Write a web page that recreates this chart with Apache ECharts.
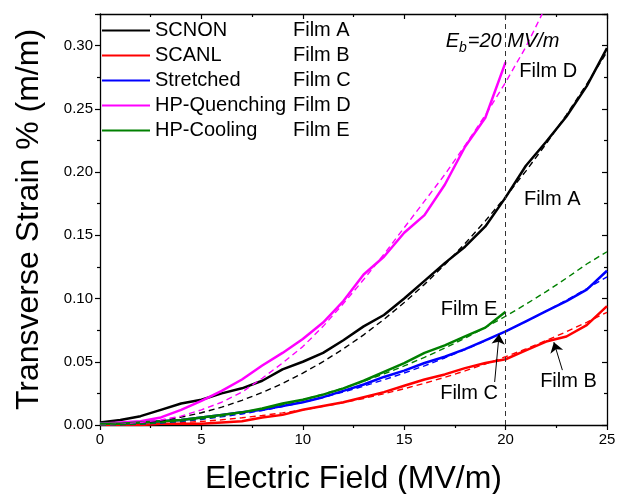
<!DOCTYPE html>
<html>
<head>
<meta charset="utf-8">
<script src="https://cdn.jsdelivr.net/npm/echarts@6/dist/echarts.min.js"></script>
<style>html,body{margin:0;padding:0;background:#fff}#c{width:618px;height:494px}</style>
</head>
<body>
<div id="c"></div>
<script>
// ---- data ----
const E25 = [0,1,2,3,4,5,6,7,8,9,10,11,12,13,14,15,16,17,18,19,20,21,22,23,24,25];
const E20 = [0,1,2,3,4,5,6,7,8,9,10,11,12,13,14,15,16,17,18,19,20];
const EdD = [0,1,2,3,4,5,6,7,8,9,10,11,12,13,14,15,16,17,18,19,20,21,21.8];

const filmA = [0.002,0.004,0.007,0.012,0.017,0.020,0.025,0.029,0.035,0.044,0.050,0.057,0.067,0.078,0.087,0.100,0.114,0.128,0.141,0.157,0.180,0.205,0.224,0.244,0.268,0.298];
const filmB = [0.000,0.000,0.000,0.001,0.001,0.001,0.002,0.003,0.006,0.008,0.012,0.015,0.018,0.022,0.026,0.031,0.036,0.040,0.045,0.049,0.052,0.059,0.066,0.070,0.079,0.094];
const filmC = [0.001,0.001,0.002,0.003,0.004,0.006,0.008,0.010,0.012,0.015,0.018,0.022,0.027,0.032,0.038,0.043,0.049,0.054,0.060,0.067,0.074,0.082,0.090,0.098,0.107,0.122];
const filmD = [0.001,0.002,0.003,0.006,0.012,0.019,0.027,0.036,0.047,0.057,0.068,0.081,0.098,0.119,0.133,0.152,0.166,0.190,0.220,0.243,0.287];
const filmE = [0.001,0.001,0.002,0.003,0.004,0.006,0.008,0.010,0.013,0.017,0.020,0.024,0.029,0.035,0.042,0.049,0.057,0.063,0.070,0.077,0.0895];

const fitA = [0,0.0004,0.0015,0.0034,0.0062,0.0097,0.0141,0.0195,0.0257,0.0328,0.0410,0.0501,0.0602,0.0713,0.0835,0.0968,0.1112,0.1268,0.1435,0.1614,0.1805,0.2008,0.2224,0.2453,0.2695,0.2950];
const fitB = [0,0.0001,0.0004,0.0010,0.0018,0.0028,0.0041,0.0057,0.0075,0.0096,0.0120,0.0147,0.0177,0.0210,0.0247,0.0287,0.0330,0.0377,0.0428,0.0482,0.0540,0.0602,0.0668,0.0738,0.0812,0.0891];
const fitC = [0,0.0002,0.0007,0.0016,0.0028,0.0044,0.0064,0.0087,0.0115,0.0145,0.0180,0.0218,0.0261,0.0307,0.0357,0.0411,0.0468,0.0530,0.0596,0.0666,0.0740,0.0818,0.0900,0.0987,0.1077,0.1172];
const fitD = [0,0.0005,0.002,0.004,0.007,0.012,0.018,0.026,0.037,0.049,0.062,0.078,0.096,0.115,0.135,0.156,0.177,0.198,0.221,0.245,0.271,0.299,0.325];
const fitE = [0,0.0002,0.0008,0.0017,0.0031,0.0048,0.0070,0.0096,0.0126,0.0161,0.0200,0.0244,0.0292,0.0346,0.0404,0.0467,0.0535,0.0608,0.0687,0.0771,0.0860,0.0955,0.1055,0.1161,0.1273,0.1370];

const names = ['SCNON','SCANL','Stretched','HP-Quenching','HP-Cooling'];
const films = ['Film A','Film B','Film C','Film D','Film E'];
const colors = ['#000000','#ff0000','#0000ff','#ff00ff','#008000'];

const xTicks = {min:0, max:25, interval:5};
const yTicks = {min:0, max:0.325, interval:0.05};
const Eb = 20;

// annotation positions (data coords)
const annotText = ['Film D','Film A','Film E','Film C','Film B'];
const annotPos = [[22.1,0.2795],[22.3,0.178],[18.2,0.0915],[18.2,0.025],[23.1,0.0347]];
const ebPos = [19.85,0.304];
const arrows = [[[19.46,0.034],[19.68,0.0718]],[[22.8,0.0434],[22.38,0.0655]]];

// ---- chart ----
const FONT = "'Liberation Sans', Arial, sans-serif";
const zip = (xs, ys) => ys.map((y,i)=>[xs[i], y]);

const solidX = [E25,E25,E25,E20,E20];
const solidY = [filmA,filmB,filmC,filmD,filmE];
const fitX = [E25,E25,E25,EdD,E25];
const fitY = [fitA,fitB,fitC,fitD,fitE];

const series = [];
names.forEach((n,i)=>{
  series.push({name:n,type:'line',data:zip(solidX[i],solidY[i]),showSymbol:false,symbol:'none',
    lineStyle:{color:colors[i],width:2.5},itemStyle:{color:colors[i]},z:3,animation:false});
});
names.forEach((n,i)=>{
  series.push({name:n+' fit',type:'line',data:zip(fitX[i],fitY[i]),showSymbol:false,symbol:'none',smooth:false,
    lineStyle:{color:colors[i],width:1.4,type:[6,4]},z:4,animation:false});
});
series.push({
  name:'annot',type:'scatter',symbolSize:0,animation:false,z:6,itemStyle:{opacity:1},
  data:annotText.map((t,i)=>({name:t,value:annotPos[i]})),
  label:{show:true,position:'inside',formatter:p=>p.name,fontFamily:FONT,fontSize:20,color:'#000',opacity:1},
  markLine:{silent:true,animation:false,symbol:['none','arrow'],symbolSize:10,
    lineStyle:{color:'#000',width:1,type:'solid'},label:{show:false},
    data:arrows.map(a=>[{coord:a[0]},{coord:a[1]}])}
});
series.push({
  name:'eb',type:'scatter',symbolSize:0,animation:false,z:6,itemStyle:{opacity:1},
  data:[{value:ebPos}],
  label:{show:true,position:'inside',fontFamily:FONT,opacity:1,
    formatter:'{i|E}{s|b}{i|=20 MV/m}',
    rich:{i:{fontSize:20,fontStyle:'italic',fontFamily:FONT,color:'#000',verticalAlign:'bottom',lineHeight:22},
          s:{fontSize:14,fontStyle:'italic',fontFamily:FONT,color:'#000',verticalAlign:'bottom',lineHeight:14,padding:[0,1,-4,0]}}},
  markLine:{silent:true,animation:false,symbol:'none',label:{show:false},
    lineStyle:{color:'#333',width:1,type:[5,4]},data:[{xAxis:Eb}]}
});

const axisCommon = {
  axisLine:{show:true,onZero:false,lineStyle:{color:'#000',width:1.3}},
  splitLine:{show:false},
};

const option = {
  animation:false,
  backgroundColor:'#fff',
  grid:{left:100,right:11,top:14,bottom:69,containLabel:false,outerBoundsMode:'none'},
  legend:{
    data:names, orient:'vertical', left:97, top:13, itemGap:0,
    icon:'rect', itemWidth:48, itemHeight:2,
    formatter:name=>'{n|'+name+'}{f|'+films[names.indexOf(name)]+'}',
    textStyle:{fontFamily:FONT,fontSize:20,color:'#000',lineHeight:25,
      rich:{n:{width:138,fontSize:20,fontFamily:FONT,color:'#000'},f:{fontSize:20,fontFamily:FONT,color:'#000'}}},
  },
  xAxis:[
    Object.assign({type:'value',position:'bottom',min:xTicks.min,max:xTicks.max,interval:xTicks.interval,
      name:'Electric Field (MV/m)',nameLocation:'middle',nameGap:38,
      nameTextStyle:{fontFamily:FONT,fontSize:32,color:'#000'},
      axisTick:{show:true,inside:false,length:5,lineStyle:{color:'#000',width:1.2}},
      minorTick:{show:true,splitNumber:2,length:3,lineStyle:{color:'#000',width:1.2}},
      axisLabel:{fontFamily:FONT,fontSize:15,color:'#000',margin:7}},axisCommon),
    Object.assign({type:'value',position:'top',min:xTicks.min,max:xTicks.max,interval:xTicks.interval,
      axisTick:{show:true,inside:true,length:5,lineStyle:{color:'#000',width:1.2}},
      minorTick:{show:true,splitNumber:2,length:3,lineStyle:{color:'#000',width:1.2}},
      axisLabel:{show:false}},axisCommon)
  ],
  yAxis:[
    Object.assign({type:'value',position:'left',min:yTicks.min,max:yTicks.max,interval:yTicks.interval,
      name:'Transverse Strain % (m/m)',nameLocation:'middle',nameGap:55,
      nameTextStyle:{fontFamily:FONT,fontSize:32,color:'#000'},
      axisTick:{show:true,inside:false,length:5,lineStyle:{color:'#000',width:1.2}},
      minorTick:{show:true,splitNumber:2,length:3,lineStyle:{color:'#000',width:1.2}},
      axisLabel:{fontFamily:FONT,fontSize:15,color:'#000',margin:7,showMaxLabel:false,
        formatter:v=> v>0.31?'':v.toFixed(2)}},axisCommon),
    Object.assign({type:'value',position:'right',min:yTicks.min,max:yTicks.max,interval:yTicks.interval,
      axisTick:{show:true,inside:true,length:5,lineStyle:{color:'#000',width:1.2}},
      minorTick:{show:true,splitNumber:2,length:3,lineStyle:{color:'#000',width:1.2}},
      axisLabel:{show:false}},axisCommon)
  ],
  series:series
};
const chart = echarts.init(document.getElementById('c'),null,{renderer:'canvas'});
chart.setOption(option);
</script>
</body>
</html>
